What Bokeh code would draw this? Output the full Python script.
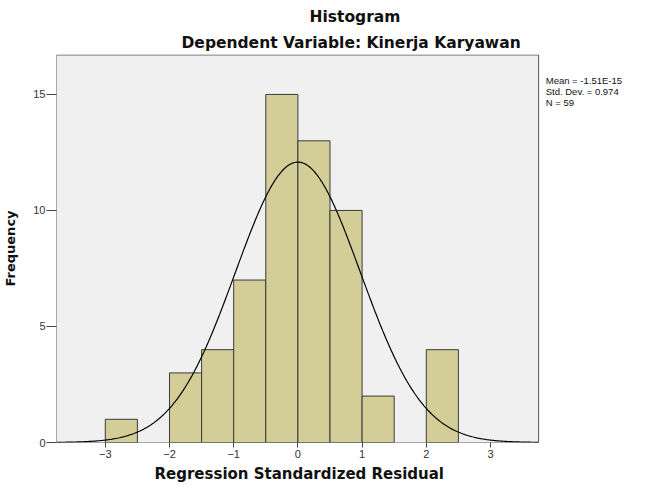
import numpy as np
from bokeh.plotting import figure
from bokeh.models import Range1d, FixedTicker, Title, Label
from bokeh.embed import file_html
from bokeh.resources import INLINE

# Data
bin_left = [-3.0, -2.5, -2.0, -1.5, -1.0, -0.5, 0.0, 0.5, 1.0, 1.5, 2.0]
bin_right = [-2.5, -2.0, -1.5, -1.0, -0.5, 0.0, 0.5, 1.0, 1.5, 2.0, 2.5]
counts = [1, 0, 3, 4, 7, 15, 13, 10, 2, 0, 4]
mean = -1.51e-15
std_dev = 0.974
n_obs = 59
bin_width = 0.5
x_ticks = [-3, -2, -1, 0, 1, 2, 3]
y_ticks = [0, 5, 10, 15]
stats_lines = ["Mean = -1.51E-15", "Std. Dev. = 0.974", "N = 59"]

FONT = "Liberation Sans"
BFONT = "DejaVu Sans"

# visible plot area (axis extent) and the canvas range that also holds the stats text
X_LO, X_HI, Y_TOP = -3.76, 3.75, 16.7

p = figure(width=641, height=490, output_backend="svg", toolbar_location=None,
           x_range=Range1d(X_LO, 5.352), y_range=Range1d(0, 16.72),
           min_border_left=55, min_border_right=0, min_border_top=54,
           min_border_bottom=48)
p.background_fill_color = "white"
p.border_fill_color = "white"
p.outline_line_color = None
p.grid.visible = False

# grey plot area with its frame
p.quad(left=[X_LO], right=[X_HI], bottom=[0], top=[Y_TOP], fill_color="#f0f0f0",
       line_color="#555555", line_width=1)

# bars (skip empty bins)
L = [l for l, c in zip(bin_left, counts) if c > 0]
R = [r for r, c in zip(bin_right, counts) if c > 0]
T = [c for c in counts if c > 0]
p.quad(left=L, right=R, bottom=0, top=T, fill_color="#d3ce97",
       line_color="#3a3a3a", line_width=1)

# normal curve
xs = np.linspace(X_LO, X_HI, 400)
ys = n_obs * bin_width / (std_dev * np.sqrt(2 * np.pi)) * np.exp(-0.5 * ((xs - mean) / std_dev) ** 2)
p.line(xs, ys, line_color="black", line_width=1.2)

for ax, ticks in ((p.xaxis, x_ticks), (p.yaxis, y_ticks)):
    ax.ticker = FixedTicker(ticks=ticks)
    ax.minor_tick_line_color = None
    ax.major_tick_in = 0
    ax.axis_line_color = None
    ax.major_tick_line_color = "#444444"
    ax.major_label_text_font = FONT
    ax.major_label_text_font_size = "11px"
    ax.major_label_text_color = "#333333"
    ax.axis_label_text_font = BFONT
    ax.axis_label_text_font_style = "bold"
    ax.axis_label_text_color = "#111111"

p.xaxis.major_tick_out = 5
p.xaxis.major_label_standoff = 2
p.yaxis.major_tick_out = 10
p.yaxis.major_label_standoff = 1
p.yaxis.axis_label = "Frequency"
p.yaxis.axis_label_text_font_size = "13px"
p.yaxis.axis_label_standoff = 12

# x-axis title placed under the visible plot area
p.add_layout(Title(text="Regression Standardized Residual", align="left", offset=98,
                   standoff=8, vertical_align="top", text_font=BFONT,
                   text_font_style="bold", text_font_size="15px",
                   text_color="#111111"), "below")

# titles (added closest-first)
p.add_layout(Title(text="Dependent Variable: Kinerja Karyawan", align="left", offset=125,
                   standoff=5, text_font=BFONT, text_font_style="bold",
                   text_font_size="15.5px", text_color="#111111"), "above")
p.add_layout(Title(text="Histogram", align="left", offset=253, standoff=8,
                   text_font=BFONT, text_font_style="bold",
                   text_font_size="15.5px", text_color="#111111"), "above")

# stats text to the right of the plot area
for i, s in enumerate(stats_lines):
    p.add_layout(Label(x=3.86, y=15.58 - i * 0.47, text=s, text_align="left",
                       text_baseline="middle", text_font=FONT,
                       text_font_size="9.5px", text_color="#111111"))

open("out.html", "w").write(file_html(p, INLINE))
